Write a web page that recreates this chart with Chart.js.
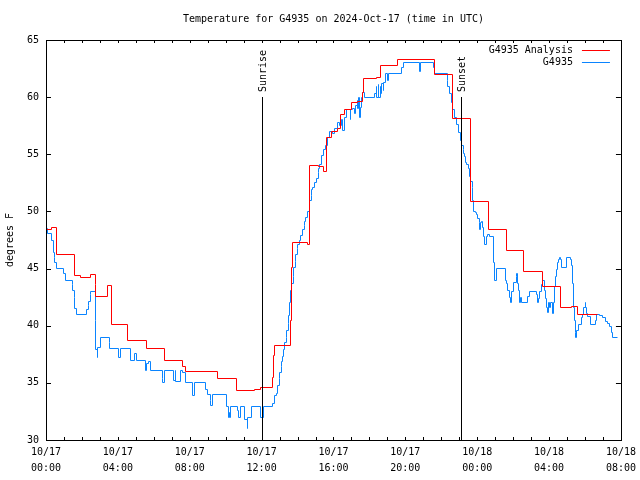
<!DOCTYPE html>
<html>
<head>
<meta charset="utf-8">
<script src="https://cdn.jsdelivr.net/npm/chart.js@4/dist/chart.umd.min.js"></script>
<style>
  html, body { margin: 0; padding: 0; background: #fff; }
</style>
</head>
<body>
<canvas id="chart" width="640" height="480"></canvas>
<script>
const FONT = '"DejaVu Sans Mono", "Liberation Mono", monospace';

const chartTitle = 'Temperature for G4935 on 2024-Oct-17 (time in UTC)';

// x axis is hours since 10/17 00:00 UTC
const xTickLabels = [
  ['10/17', '00:00'], ['10/17', '04:00'], ['10/17', '08:00'],
  ['10/17', '12:00'], ['10/17', '16:00'], ['10/17', '20:00'],
  ['10/18', '00:00'], ['10/18', '04:00'], ['10/18', '08:00']
];

// G4935 Analysis (red, step line)
const analysisHours = [
  0.00, 0.33, 0.61, 1.61, 1.90, 2.50, 2.73, 2.78, 3.45, 3.62,
  4.56, 5.62, 6.62, 7.62, 7.79, 9.57, 10.63, 11.63, 11.96, 12.63,
  12.66, 12.69, 13.62, 13.67, 13.70, 14.58, 14.64, 15.14, 15.47, 15.60,
  15.90, 16.20, 16.40, 16.64, 17.03, 17.31, 17.64, 17.67, 18.42, 18.59,
  19.59, 21.65, 22.65, 23.65, 24.65, 25.65, 26.60, 27.66, 28.66, 29.27,
  29.60, 30.72
];
const analysisTemps = [
  48.4, 48.6, 46.2, 44.4, 44.2, 44.5, 43.6, 42.6, 43.5, 40.1,
  38.7, 38.0, 37.0, 36.4, 36.0, 35.4, 34.3, 34.4, 34.6, 35.5,
  37.4, 38.3, 40.5, 45.1, 47.3, 47.1, 54.0, 53.9, 53.5, 56.5,
  57.0, 57.3, 58.5, 58.9, 59.5, 59.6, 60.4, 61.6, 61.7, 62.8,
  63.3, 62.0, 58.1, 50.9, 48.4, 46.6, 44.7, 43.4, 41.6, 41.7,
  41.0, 41.0
];

// G4935 observations (blue)
const obsHours = [
  0.00, 0.06, 0.28, 0.39, 0.45, 0.50, 0.56, 1.00, 1.11, 1.45,
  1.50, 1.56, 1.61, 1.67, 2.28, 2.34, 2.39, 2.45, 2.50, 2.73,
  2.78, 2.84, 2.89, 3.01, 3.51, 3.56, 4.01, 4.12, 4.73, 4.90,
  5.01, 5.56, 5.62, 5.73, 5.79, 6.46, 6.51, 6.57, 7.12, 7.18,
  7.23, 7.51, 7.57, 7.79, 8.18, 8.29, 8.90, 9.01, 9.13, 9.18,
  9.24, 10.07, 10.13, 10.18, 10.24, 10.29, 10.68, 10.74, 10.80, 11.07,
  11.19, 11.24, 11.46, 11.96, 12.08, 12.63, 12.69, 12.85, 12.91, 12.97,
  13.02, 13.08, 13.13, 13.19, 13.24, 13.30, 13.36, 13.41, 13.47, 13.52,
  13.58, 13.63, 13.69, 13.75, 13.80, 13.86, 13.91, 13.97, 14.02, 14.13,
  14.19, 14.30, 14.36, 14.41, 14.47, 14.58, 14.64, 14.69, 14.75, 14.80,
  14.86, 14.97, 15.08, 15.14, 15.19, 15.25, 15.36, 15.47, 15.58, 15.69,
  15.80, 15.97, 16.08, 16.25, 16.36, 16.47, 16.53, 16.64, 16.75, 16.92,
  16.97, 17.08, 17.19, 17.25, 17.31, 17.36, 17.42, 17.47, 17.53, 17.58,
  17.64, 17.70, 18.31, 18.37, 18.42, 18.48, 18.53, 18.59, 18.64, 18.70,
  18.76, 18.81, 18.92, 19.03, 19.09, 19.81, 19.87, 20.81, 20.87, 21.54,
  21.65, 22.32, 22.37, 22.48, 22.59, 22.65, 22.76, 22.87, 22.98, 23.09,
  23.15, 23.21, 23.26, 23.32, 23.37, 23.43, 23.54, 23.59, 23.65, 23.71,
  23.76, 23.82, 23.93, 23.98, 24.04, 24.10, 24.15, 24.21, 24.26, 24.32,
  24.37, 24.43, 24.54, 24.60, 24.71, 24.93, 24.99, 25.10, 25.60, 25.65,
  25.71, 25.82, 25.88, 25.93, 26.04, 26.16, 26.21, 26.27, 26.32, 26.38,
  26.43, 26.49, 26.82, 26.93, 27.32, 27.38, 27.43, 27.49, 27.60, 27.66,
  27.77, 27.82, 27.88, 27.93, 27.99, 28.05, 28.10, 28.21, 28.27, 28.32,
  28.38, 28.44, 28.49, 28.55, 28.60, 28.66, 28.71, 28.99, 29.21, 29.27,
  29.32, 29.38, 29.44, 29.47, 29.49, 29.55, 29.61, 29.83, 29.88, 29.94,
  30.00, 30.05, 30.11, 30.16, 30.33, 30.61, 30.66, 30.83, 31.00, 31.16,
  31.27, 31.38, 31.49, 31.55, 31.83
];
const obsTemps = [
  48.5, 48.1, 47.5, 46.4, 46.0, 45.5, 45.0, 44.6, 44.0, 43.6,
  43.1, 42.5, 41.5, 41.0, 41.4, 41.8, 42.1, 42.7, 43.0, 40.5,
  37.9, 37.2, 38.1, 39.0, 38.5, 38.0, 37.2, 38.0, 37.0, 37.6,
  37.0, 36.1, 36.7, 36.9, 36.1, 35.4, 35.0, 36.1, 35.2, 36.1,
  35.1, 36.1, 35.9, 35.0, 33.9, 35.0, 34.4, 34.0, 33.5, 33.0,
  34.0, 32.9, 32.0, 32.4, 32.0, 32.9, 32.6, 32.0, 32.9, 31.8,
  31.0, 32.0, 32.9, 32.0, 32.9, 33.2, 33.9, 34.1, 34.8, 35.4,
  35.9, 36.4, 36.9, 37.3, 37.9, 38.5, 39.0, 39.6, 40.2, 40.9,
  42.0, 43.1, 43.7, 44.3, 45.1, 45.6, 46.2, 46.8, 47.1, 47.5,
  47.9, 48.4, 48.8, 49.1, 49.5, 50.0, 50.6, 51.0, 51.4, 51.9,
  52.1, 52.5, 52.9, 53.4, 53.8, 54.1, 54.9, 55.4, 55.8, 56.5,
  57.0, 56.8, 57.3, 57.8, 57.5, 58.0, 57.1, 58.2, 58.9, 58.0,
  58.9, 59.0, 58.6, 59.3, 59.7, 59.0, 60.0, 58.2, 59.1, 60.0,
  60.4, 60.0, 60.3, 60.9, 60.0, 61.1, 60.0, 60.9, 60.3, 61.2,
  60.6, 61.3, 62.1, 61.5, 62.1, 62.6, 63.0, 62.2, 63.0, 62.6,
  62.1, 61.5, 60.9, 60.3, 59.5, 58.9, 58.2, 57.6, 56.9, 56.2,
  55.8, 55.4, 55.1, 54.8, 54.3, 54.1, 53.8, 53.1, 52.6, 52.1,
  51.0, 50.0, 49.9, 49.7, 49.4, 49.0, 48.4, 49.0, 49.1, 48.6,
  47.8, 47.1, 47.8, 48.0, 47.8, 45.5, 44.0, 45.0, 44.0, 43.7,
  43.1, 42.5, 42.0, 43.0, 43.8, 44.3, 44.6, 43.7, 43.1, 42.0,
  42.5, 42.0, 42.6, 43.0, 42.7, 42.0, 42.4, 43.0, 43.6, 44.0,
  43.1, 42.4, 41.6, 41.2, 42.0, 41.6, 42.0, 41.1, 42.0, 43.4,
  44.3, 44.9, 45.5, 45.8, 46.0, 45.8, 45.1, 46.0, 45.8, 45.3,
  43.7, 41.6, 40.5, 39.4, 39.0, 39.6, 40.1, 40.7, 41.0, 41.6,
  42.0, 41.6, 41.1, 40.8, 40.1, 40.5, 41.0, 40.9, 40.7, 40.4,
  40.2, 39.9, 39.4, 39.0, 39.0
];

const sunNames = ['Sunrise', 'Sunset'];
const sunHours = [12.02, 23.09];
const sunLineTop = 60; // degrees F where the marker lines stop

const RED = '#ff0000';
const BLUE = '#0a84ff';

// snap line vertices to pixel centres so 1px lines stay crisp
const snapPlugin = {
  id: 'snap',
  beforeDatasetsDraw(chart) {
    chart.data.datasets.forEach((ds, i) => {
      chart.getDatasetMeta(i).data.forEach(p => {
        p.x = Math.floor(p.x) + 0.5;
        p.y = Math.floor(p.y) + 0.5;
      });
    });
  }
};

// title, frame, inward ticks, sunrise/sunset markers and legend
const decorPlugin = {
  id: 'decor',
  afterDatasetsDraw(chart) {
    const { ctx, chartArea: a, scales: { x, y } } = chart;
    ctx.save();
    ctx.font = '10px ' + FONT;
    ctx.fillStyle = '#000';
    ctx.textAlign = 'center';
    ctx.textBaseline = 'middle';
    ctx.fillText(chartTitle, (a.left + a.right) / 2, 19);

    ctx.strokeStyle = '#000';
    ctx.lineWidth = 1;
    ctx.strokeRect(Math.round(a.left) + 0.5, Math.round(a.top) + 0.5,
      Math.round(a.right - a.left), Math.round(a.bottom - a.top));

    ctx.beginPath();
    for (let h = 0; h <= 32; h++) {
      const px = Math.round(x.getPixelForValue(h)) + 0.5;
      ctx.moveTo(px, a.bottom); ctx.lineTo(px, a.bottom - 3);
      ctx.moveTo(px, a.top); ctx.lineTo(px, a.top + 3);
    }
    for (let v = 30; v <= 65; v += 5) {
      const py = Math.round(y.getPixelForValue(v)) + 0.5;
      ctx.moveTo(a.left, py); ctx.lineTo(a.left + 5, py);
      ctx.moveTo(a.right, py); ctx.lineTo(a.right - 5, py);
    }
    ctx.stroke();

    // sunrise / sunset
    const topPx = Math.round(y.getPixelForValue(sunLineTop));
    sunHours.forEach((h, i) => {
      const px = Math.round(x.getPixelForValue(h)) + 0.5;
      ctx.beginPath();
      ctx.moveTo(px, topPx);
      ctx.lineTo(px, a.bottom);
      ctx.stroke();
      ctx.save();
      ctx.translate(px + 1, topPx - 5);
      ctx.rotate(-Math.PI / 2);
      ctx.textAlign = 'left';
      ctx.textBaseline = 'middle';
      ctx.fillText(sunNames[i], 0, 0);
      ctx.restore();
    });

    // legend
    ctx.textAlign = 'right';
    ctx.textBaseline = 'middle';
    chart.data.datasets.forEach((ds, i) => {
      const ly = Math.round(a.top + 10 + i * 12) + 0.5;
      ctx.fillStyle = '#000';
      ctx.fillText(ds.label, a.right - 48, ly);
      ctx.strokeStyle = ds.borderColor;
      ctx.beginPath();
      ctx.moveTo(a.right - 39, ly);
      ctx.lineTo(a.right - 11, ly);
      ctx.stroke();
    });
    ctx.restore();
  }
};

new Chart(document.getElementById('chart'), {
  type: 'line',
  data: {
    datasets: [
      {
        label: 'G4935 Analysis',
        data: analysisHours.map((h, i) => ({ x: h, y: analysisTemps[i] })),
        borderColor: RED,
        borderWidth: 1,
        stepped: true,
        pointRadius: 0,
        fill: false
      },
      {
        label: 'G4935',
        data: obsHours.map((h, i) => ({ x: h, y: obsTemps[i] })),
        borderColor: BLUE,
        borderWidth: 1,
        stepped: true,
        pointRadius: 0,
        fill: false
      }
    ]
  },
  options: {
    responsive: false,
    animation: false,
    events: [],
    layout: { padding: { top: 40, right: 19, bottom: 0, left: 0 } },
    plugins: {
      legend: { display: false },
      tooltip: { enabled: false },
      title: { display: false }
    },
    scales: {
      x: {
        type: 'linear',
        min: 0,
        max: 32,
        grid: { display: false, drawTicks: false },
        border: { display: false },
        afterFit: s => { s.height = 40; },
        ticks: {
          stepSize: 4,
          autoSkip: false,
          maxRotation: 0,
          padding: 4,
          color: '#000',
          font: { family: FONT, size: 10, lineHeight: 1.6 },
          callback: v => xTickLabels[Math.round(v / 4)]
        }
      },
      y: {
        min: 30,
        max: 65,
        grid: { display: false, drawTicks: false },
        border: { display: false },
        afterFit: s => { s.width = 46; },
        title: {
          display: true,
          text: 'degrees F',
          color: '#000',
          font: { family: FONT, size: 10 },
          padding: { top: 4, bottom: 0 }
        },
        ticks: {
          stepSize: 5,
          padding: 7,
          color: '#000',
          font: { family: FONT, size: 10 }
        }
      }
    }
  },
  plugins: [snapPlugin, decorPlugin]
});
</script>
</body>
</html>
